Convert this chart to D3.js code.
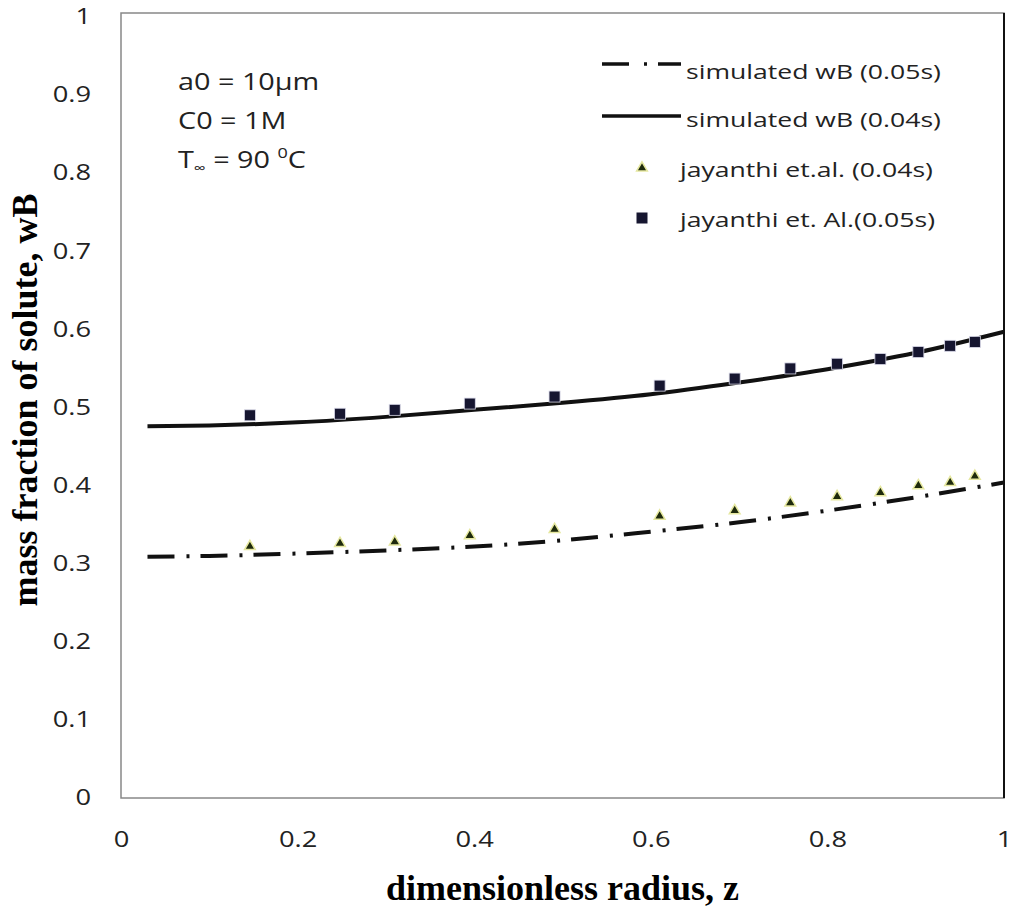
<!DOCTYPE html>
<html>
<head>
<meta charset="utf-8">
<script src="https://cdn.jsdelivr.net/npm/d3@7"></script>
<style>
  body { margin: 0; background: #fff; }
  svg text { font-family: "Open Sans", Lato, sans-serif; }
</style>
</head>
<body>
<svg id="chart" width="1017" height="910"></svg>
<script>
// simulated curves
const curveZ = [0.03, 0.1, 0.2, 0.3, 0.4, 0.5, 0.6, 0.7, 0.8, 0.9, 1.0];
const sim005 = [0.309, 0.310, 0.313, 0.317, 0.322, 0.330, 0.341, 0.353, 0.368, 0.385, 0.404];
const sim004 = [0.476, 0.477, 0.481, 0.488, 0.497, 0.506, 0.517, 0.532, 0.549, 0.570, 0.597];

// jayanthi data points
const expZ = [0.146, 0.248, 0.310, 0.395, 0.491, 0.610, 0.695, 0.758, 0.811, 0.860, 0.903, 0.939, 0.967];
const jay004 = [0.322, 0.326, 0.328, 0.336, 0.344, 0.361, 0.368, 0.378, 0.386, 0.391, 0.400, 0.404, 0.412];
const jay005 = [0.490, 0.492, 0.497, 0.505, 0.514, 0.528, 0.537, 0.550, 0.556, 0.562, 0.571, 0.579, 0.584];

const xTicks = [0, 0.2, 0.4, 0.6, 0.8, 1];
const yTicks = [0, 0.1, 0.2, 0.3, 0.4, 0.5, 0.6, 0.7, 0.8, 0.9, 1];

const legendLabels = ['simulated wB (0.05s)', 'simulated wB (0.04s)', 'jayanthi et.al. (0.04s)', 'jayanthi et. Al.(0.05s)'];
const notes = ['a0 = 10\u03bcm', 'C0 = 1M'];

const svg = d3.select('#chart');
const m = { left: 121, right: 1004, top: 13, bottom: 798 };
const wide = 1.3; // the sans text in the picture is drawn wide

const x = d3.scaleLinear().domain([0, 1]).range([m.left, m.right]);
const y = d3.scaleLinear().domain([0, 1]).range([m.bottom, m.top + 4]);

// frame
svg.append('rect')
  .attr('x', m.left).attr('y', m.top)
  .attr('width', m.right - m.left).attr('height', m.bottom - m.top)
  .attr('fill', 'none').attr('stroke', '#888').attr('stroke-width', 1.5);
svg.append('line')
  .attr('x1', m.right).attr('x2', m.right).attr('y1', m.top).attr('y2', m.bottom)
  .attr('stroke', '#111').attr('stroke-width', 2);

const fmt = d => d === 0 ? '0' : d === 1 ? '1' : d3.format('.1f')(d);

// axes (labels only)
const xAxis = svg.append('g').attr('transform', `translate(0,${m.bottom})`)
  .call(d3.axisBottom(x).tickValues(xTicks).tickSize(0).tickPadding(34).tickFormat(fmt));
xAxis.select('.domain').remove();
xAxis.selectAll('text').attr('font-size', 21).attr('fill', '#222')
  .attr('transform', `scale(${wide},1)`);

const yAxis = svg.append('g').attr('transform', `translate(${m.left},0)`)
  .call(d3.axisLeft(y).tickValues(yTicks).tickSize(0).tickPadding(23).tickFormat(fmt));
yAxis.select('.domain').remove();
yAxis.selectAll('text').attr('font-size', 21).attr('fill', '#222')
  .attr('transform', `scale(${wide},1)`);

// axis titles
svg.append('text')
  .attr('x', (m.left + m.right) / 2).attr('y', 900)
  .attr('text-anchor', 'middle')
  .style('font-family', '"Liberation Serif", "Times New Roman", serif')
  .attr('font-weight', 'bold').attr('font-size', 36)
  .text('dimensionless radius, z');

svg.append('text')
  .attr('transform', `translate(37,400) rotate(-90)`)
  .attr('text-anchor', 'middle')
  .style('font-family', '"Liberation Serif", "Times New Roman", serif')
  .attr('font-weight', 'bold').attr('font-size', 36)
  .text('mass fraction of solute, wB');

// lines
const line = d3.line().x(d => x(d[0])).y(d => y(d[1])).curve(d3.curveMonotoneX);

svg.append('path')
  .datum(curveZ.map((z, i) => [z, sim004[i]]))
  .attr('d', line).attr('fill', 'none')
  .attr('stroke', '#111').attr('stroke-width', 4);

svg.append('path')
  .datum(curveZ.map((z, i) => [z, sim005[i]]))
  .attr('d', line).attr('fill', 'none')
  .attr('stroke', '#111').attr('stroke-width', 4)
  .attr('stroke-dasharray', '27 12 3 11');

// markers
const tri = d3.symbol().type(d3.symbolTriangle).size(50);
svg.append('g').selectAll('path')
  .data(expZ.map((z, i) => [z, jay004[i]]))
  .join('path')
  .attr('d', tri)
  .attr('transform', d => `translate(${x(d[0])},${y(d[1])})`)
  .attr('fill', '#1e2a0c').attr('stroke', '#e6e8a0').attr('stroke-width', 1.5);

svg.append('g').selectAll('rect')
  .data(expZ.map((z, i) => [z, jay005[i]]))
  .join('rect')
  .attr('x', d => x(d[0]) - 5.5).attr('y', d => y(d[1]) - 5.5)
  .attr('width', 11).attr('height', 11)
  .attr('fill', '#161630').attr('stroke', '#d8d8e8').attr('stroke-width', 0.8);

// legend
const lg = svg.append('g');
lg.append('line').attr('x1', 602).attr('x2', 681).attr('y1', 64).attr('y2', 64)
  .attr('stroke', '#111').attr('stroke-width', 3.5).attr('stroke-dasharray', '27 15 3 11');
lg.append('line').attr('x1', 602).attr('x2', 681).attr('y1', 116).attr('y2', 116)
  .attr('stroke', '#111').attr('stroke-width', 3.5);
lg.append('path').attr('d', tri)
  .attr('transform', 'translate(642,168)')
  .attr('fill', '#1e2a0c').attr('stroke', '#e6e8a0').attr('stroke-width', 1.5);
lg.append('rect').attr('x', 636.5).attr('y', 212.5).attr('width', 11).attr('height', 11)
  .attr('fill', '#161630');
const legX = [686, 686, 680, 680];
const legY = [79, 127, 177, 227];
lg.selectAll('text')
  .data(legendLabels)
  .join('text')
  .attr('transform', (d, i) => `translate(${legX[i]},${legY[i]}) scale(1.33,1)`)
  .attr('font-size', 20).attr('fill', '#222')
  .text(d => d);

// annotation
const ann = svg.append('g').attr('font-size', 24).attr('fill', '#222');
notes.forEach((t, i) => {
  ann.append('text').attr('transform', `translate(178,${90 + i * 39}) scale(1.2,1)`).text(t);
});
const t3 = ann.append('text').attr('transform', 'translate(178,168) scale(1.2,1)');
t3.append('tspan').text('T');
t3.append('tspan').attr('font-size', 14).attr('dy', 5).text('\u221e');
t3.append('tspan').attr('dy', -5).text(' = 90 ');
t3.append('tspan').attr('font-size', 15).attr('dy', -10).text('0');
t3.append('tspan').attr('dy', 10).text('C');
</script>
</body>
</html>
